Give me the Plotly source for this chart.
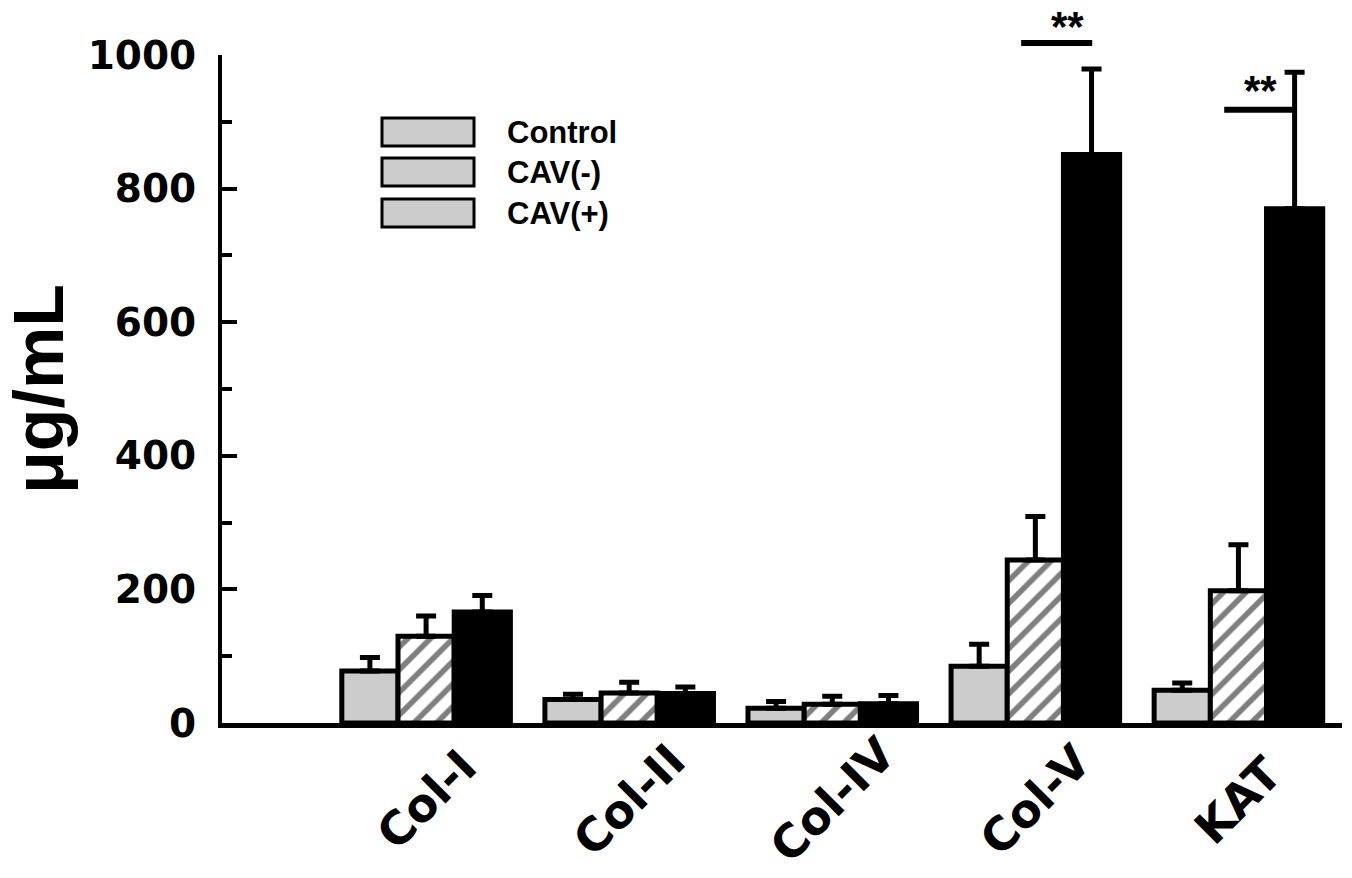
import plotly.graph_objects as go

categories = ["Col-I", "Col-II", "Col-IV", "Col-V", "KAT"]
series_names = ["Control", "CAV(-)", "CAV(+)"]
control_vals = [78, 35, 22, 85, 49]
control_err = [20, 8, 10, 33, 11]
cavneg_vals = [130, 45, 28, 244, 198]
cavneg_err = [30, 16, 12, 65, 69]
cavpos_vals = [166, 44, 29, 851, 770]
cavpos_err = [25, 10, 12, 128, 204]
y_ticks = [0, 200, 400, 600, 800, 1000]
sig_labels = ["**", "**"]

x_idx = list(range(len(categories)))
FONT_NUM = "DejaVu Sans"
FONT_TXT = "Liberation Sans"

fig = go.Figure()

def err(a):
    return dict(type="data", array=a, arrayminus=[0] * len(a), symmetric=False,
                thickness=5, width=10, color="black")

fig.add_trace(go.Bar(name=series_names[0], x=x_idx, y=control_vals, error_y=err(control_err),
                     marker=dict(color="#cccccc", line=dict(color="black", width=5))))
fig.add_trace(go.Bar(name=series_names[1], x=x_idx, y=cavneg_vals, error_y=err(cavneg_err),
                     marker=dict(color="white", line=dict(color="black", width=5),
                                 pattern=dict(shape="/", fgcolor="black", bgcolor="white",
                                              size=16, solidity=0.35))))
fig.add_trace(go.Bar(name=series_names[2], x=x_idx, y=cavpos_vals, error_y=err(cavpos_err),
                     marker=dict(color="black", line=dict(color="black", width=5))))

annotations = []
shapes = []

# category labels, rotated, centred under each group
for i, c in enumerate(categories):
    annotations.append(dict(x=i, y=-0.115, xref="x", yref="paper", text=c, showarrow=False,
                            textangle=-45, xanchor="center", yanchor="middle",
                            font=dict(family=FONT_NUM, size=46, color="black")))

# custom legend (all swatches grey, as in the original)
legend_y = [132, 172, 213]
for name, yy in zip(series_names, legend_y):
    top = (723 - (yy - 14)) / 668
    bot = (723 - (yy + 14)) / 668
    shapes.append(dict(type="rect", xref="paper", yref="paper",
                       x0=(382 - 222) / 1120, x1=(474 - 222) / 1120, y0=bot, y1=top,
                       fillcolor="#cccccc", line=dict(color="black", width=3)))
    annotations.append(dict(x=(505 - 222) / 1120, y=(723 - yy) / 668, xref="paper", yref="paper",
                            text=name, showarrow=False, xanchor="left", yanchor="middle",
                            font=dict(family=FONT_TXT, size=31, color="black")))

# significance markers
sig = [(2.93, 3.28, 1.018, 1.0815, 3.16), (3.93, 4.27, 0.918, 0.985, 4.11)]
for (x0, x1, yl, yt, xt), lab in zip(sig, sig_labels):
    shapes.append(dict(type="line", xref="x", yref="paper", x0=x0, x1=x1, y0=yl, y1=yl,
                       line=dict(color="black", width=6)))
    annotations.append(dict(x=xt, y=yt, xref="x", yref="paper", text=lab, showarrow=False,
                            xanchor="center", yanchor="top",
                            font=dict(family=FONT_TXT, size=42, color="black")))

fig.update_layout(
    width=1352, height=878,
    margin=dict(l=222, r=10, t=55, b=155),
    paper_bgcolor="white", plot_bgcolor="white",
    barmode="group", bargap=0.17, bargroupgap=0,
    showlegend=False,
    annotations=annotations, shapes=shapes,
    xaxis=dict(range=[-1.005, 4.51], showticklabels=False, ticks="", showgrid=False,
               zeroline=False, showline=True, linecolor="black", linewidth=5),
    yaxis=dict(range=[0, 1000], tickvals=y_ticks, ticks="inside", ticklen=15, tickwidth=4,
               tickcolor="black", showgrid=False, zeroline=False, showline=True,
               linecolor="black", linewidth=4, ticklabelstandoff=14,
               tickfont=dict(family=FONT_NUM, size=39, color="black", weight="bold"),
               minor=dict(dtick=100, ticks="inside", ticklen=10, tickwidth=4, tickcolor="black"),
               title=dict(text="μg/mL", standoff=22,
                          font=dict(family=FONT_TXT, size=70, color="black", weight="bold"))),
)

for a in fig.layout.annotations:
    a.font.weight = "bold"

fig.write_html("out.html")
